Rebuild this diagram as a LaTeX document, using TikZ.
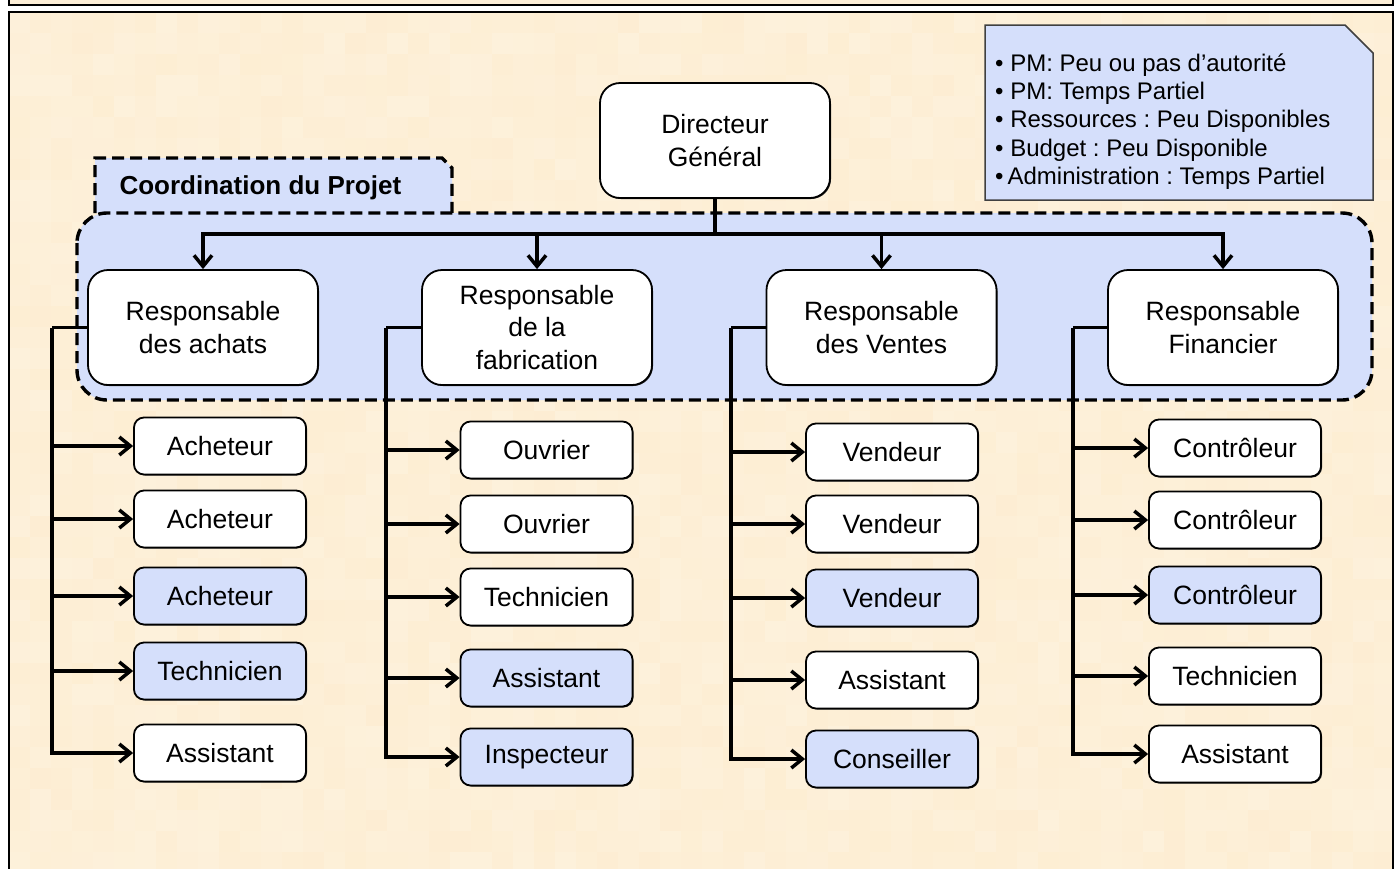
\documentclass[tikz,border=0pt]{standalone}
\usepackage{fontspec}
\setmainfont{Liberation Sans}
\usetikzlibrary{arrows.meta,shadows}
\definecolor{beigeA}{HTML}{FCEBCD}
\definecolor{beigeB}{HTML}{FEF3E0}
\definecolor{paleblue}{HTML}{D5DFFB}
\frenchspacing

\begin{document}
\begin{tikzpicture}[x=1pt,y=-1pt,
  edgebox/.style={draw=black, line width=1.8pt, align=center, inner sep=0pt,
    general shadow={shadow xshift=1pt, shadow yshift=-1pt, fill=black!80},
    font=\fontsize{26.5}{32.5}\selectfont},
  headbox/.style={edgebox, fill=white, rounded corners=20pt,
    minimum width=230pt, minimum height=115pt},
  staff/.style={edgebox, fill=white, rounded corners=10pt,
    minimum width=172pt, minimum height=57pt},
  staffblue/.style={staff, fill=paleblue},
  link/.style={line width=3.5pt},
  conn/.style={line width=3.5pt, -{Straight Barb[length=11pt,width=18pt]}},
  dashframe/.style={draw=black, line width=3.4pt, dash pattern=on 12pt off 6pt, fill=paleblue}
]
\useasboundingbox (0,0) rectangle (1397,868);
\fill[white] (0,0) rectangle (1397,868);

% title strip above the frame
\draw[fill=beigeA!50!beigeB, line width=1.5pt] (9,-20) rectangle (1393,5);

% mosaic background of the main frame
\begin{scope}
  \clip (9,12) rectangle (1393,868);
  \pgfmathsetseed{4217}
  \foreach \i in {0,...,66}{
    \foreach \j in {0,...,41}{
      \pgfmathsetmacro\mix{int(30+45*rnd)}
      \fill[beigeB!\mix!beigeA] (9+21*\i,12+21*\j) rectangle +(21,21);
    }
  }
\end{scope}
\draw[line width=1.5pt] (9,12) rectangle (1393,890);

% project coordination tab and area
\draw[dashframe] (95,213) -- (95,158) -- (442,158) -- (452,168) -- (452,213);
\node[anchor=west, font=\fontsize{26}{30}\bfseries] (coordlbl) at (116,188) {Coordination du Projet};
\draw[dashframe, rounded corners=30pt] (77,213) rectangle (1372,400);

% notes box
\draw[fill=paleblue, draw=black!75, line width=1.5pt]
  (985,25) -- (1345,25) -- (1373,53) -- (1373,200) -- (985,200) -- cycle;
\node[anchor=west, align=left, inner sep=0pt, font=\fontsize{24}{28.3}\selectfont] (notes) at (995,121.5)
  {• PM: Peu ou pas d’autorité\\
   • PM: Temps Partiel\\
   • Ressources : Peu Disponibles\\
   • Budget : Peu Disponible\\
   •\,Administration : Temps Partiel};

% management
\node[headbox] (dir) at (715,140.5) {Directeur\\Général};
\node[headbox] (m1) at (203,327.5) {Responsable\\des achats};
\node[headbox] (m2) at (537,327.5) {Responsable\\de la\\fabrication};
\node[headbox] (m3) at (881.5,327.5) {Responsable\\des Ventes};
\node[headbox] (m4) at (1223,327.5) {Responsable\\Financier};

% staff, purchasing
\node[staff]     (s11) at (220,446) {Acheteur};
\node[staff]     (s12) at (220,519) {Acheteur};
\node[staffblue] (s13) at (220,596) {Acheteur};
\node[staffblue] (s14) at (220,671) {Technicien};
\node[staff]     (s15) at (220,753) {Assistant};
% staff, manufacturing
\node[staff]     (s21) at (546.5,450) {Ouvrier};
\node[staff]     (s22) at (546.5,524) {Ouvrier};
\node[staff]     (s23) at (546.5,597) {Technicien};
\node[staffblue] (s24) at (546.5,678) {Assistant};
\node[staffblue] (s25) at (546.5,757) {Inspecteur};
% staff, sales
\node[staff]     (s31) at (892,452) {Vendeur};
\node[staff]     (s32) at (892,524) {Vendeur};
\node[staffblue] (s33) at (892,598) {Vendeur};
\node[staff]     (s34) at (892,680) {Assistant};
\node[staffblue] (s35) at (892,759) {Conseiller};
% staff, finance
\node[staff]     (s41) at (1235,448) {Contrôleur};
\node[staff]     (s42) at (1235,520) {Contrôleur};
\node[staffblue] (s43) at (1235,595) {Contrôleur};
\node[staff]     (s44) at (1235,676) {Technicien};
\node[staff]     (s45) at (1235,754) {Assistant};

% director to managers
\coordinate (trunk) at (715,234);
\draw[link] (dir.south) -- (trunk);
\foreach \m in {m1,m2,m3,m4}
  \draw[conn] (trunk) -| (\m.north);

% managers to their staff
\coordinate (b1) at (52,327.5);
\coordinate (b2) at (386,327.5);
\coordinate (b3) at (731,327.5);
\coordinate (b4) at (1073,327.5);
\foreach \c in {1,2,3,4}{
  \draw[link] (m\c.west) -- (b\c);
  \foreach \k in {1,...,5}
    \draw[conn] (b\c) |- (s\c\k.west);
}
\end{tikzpicture}
\end{document}
